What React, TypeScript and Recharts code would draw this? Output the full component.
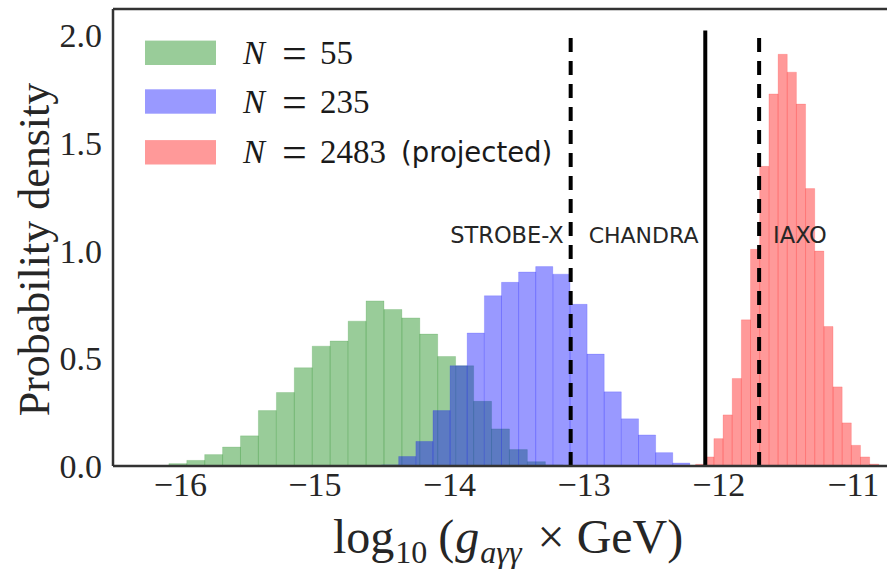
import React from 'react';
import { ComposedChart, XAxis, YAxis, ReferenceArea, ReferenceLine, ReferenceDot, Legend } from 'recharts';

// ---- data ----
const xTicks = [-16, -15, -14, -13, -12, -11];
const yTicks = [0, 0.5, 1.0, 1.5, 2.0];

const greenWidth = 0.1332;
const greenLeft = [-16.085, -15.952, -15.819, -15.686, -15.553, -15.42, -15.286, -15.153, -15.02, -14.887, -14.753, -14.62, -14.487, -14.354, -14.221, -14.088, -13.954, -13.821, -13.688, -13.555, -13.421, -13.288];
const greenHeight = [0.011, 0.026, 0.053, 0.088, 0.14, 0.257, 0.341, 0.456, 0.556, 0.58, 0.672, 0.766, 0.726, 0.687, 0.612, 0.508, 0.465, 0.3, 0.172, 0.076, 0.02, 0.005];

const blueWidth = 0.1273;
const blueLeft = [-14.505, -14.378, -14.25, -14.123, -13.996, -13.869, -13.741, -13.614, -13.487, -13.36, -13.232, -13.105, -12.978, -12.851, -12.723, -12.596, -12.469, -12.342];
const blueHeight = [0.005, 0.044, 0.114, 0.257, 0.465, 0.617, 0.79, 0.852, 0.9, 0.925, 0.89, 0.75, 0.519, 0.344, 0.219, 0.144, 0.062, 0.014];

const redWidth = 0.0681;
const redLeft = [-12.172, -12.104, -12.036, -11.968, -11.9, -11.832, -11.764, -11.696, -11.627, -11.559, -11.491, -11.423, -11.355, -11.287, -11.219, -11.151, -11.083, -11.015, -10.947, -10.879];
const redHeight = [0.008, 0.042, 0.127, 0.237, 0.406, 0.678, 1.005, 1.39, 1.726, 1.91, 1.827, 1.679, 1.287, 0.997, 0.647, 0.367, 0.2, 0.096, 0.042, 0.009];

const limitNames = ['STROBE-X', 'CHANDRA', 'IAXO'];
const limitX = [-13.1, -12.1, -11.7];
const limitDashed = [true, false, true];
const limitTop = 2.02;

const labelTexts = ['STROBE-X', 'CHANDRA', 'IAXO'];
const labelX = [-13.1, -13.1, -11.7];
const labelY = 1.07;

const legendN = ['55', '235', '2483'];
const legendExtra = ['', '', '(projected)'];

const X_MIN = -16.5;
const X_MAX = -10.75;
const Y_MAX = 2.12;

const GREEN = '#008000';
const BLUE = '#0000ff';
const RED = '#ff0000';
const seriesColors = [GREEN, BLUE, RED];

const series = [
  { left: greenLeft, height: greenHeight, width: greenWidth, color: GREEN },
  { left: blueLeft, height: blueHeight, width: blueWidth, color: BLUE },
  { left: redLeft, height: redHeight, width: redWidth, color: RED },
];

const SERIF = '"Liberation Serif", "DejaVu Serif", serif';
const SANS = '"DejaVu Sans", sans-serif';
const SPINE = '#333333';
const TEXT = '#262626';

const fmtX = (v: number) => (v < 0 ? '\u2212' + Math.abs(v) : String(v));
const fmtY = (v: number) => v.toFixed(1);

const labelDx = [-7, 18, 14];
const labelAnchor = ['end', 'start', 'start'];
const labelSize = [22.5, 22, 22.5];

const LegendBox = () => {
  const rows = [52.8, 101.5, 152.3];
  return (
    <svg width={600} height={190} style={{ display: 'block' }}>
      {legendN.map((n, i) => (
        <g key={i}>
          <rect x={145} y={rows[i] - 12.2} width={71} height={24.4} fill={seriesColors[i]} fillOpacity={0.4} />
          <text y={rows[i]} dominantBaseline="central" fontFamily={SERIF} fontSize={33} fill="#1a1a1a">
            <tspan x={243} fontStyle="italic">N</tspan>
            <tspan x={282} fontSize={44}>=</tspan>
            <tspan x={320}>{n}</tspan>
            {legendExtra[i] ? (
              <tspan x={401} fontFamily={SANS} fontSize={27.5}>{legendExtra[i]}</tspan>
            ) : null}
          </text>
        </g>
      ))}
    </svg>
  );
};

export default function App() {
  return (
    <div style={{ position: 'fixed', left: 0, top: 0, width: 887, height: 569, overflow: 'hidden', background: '#fff' }}>
      <ComposedChart width={887} height={569} data={[]} margin={{ top: 9, right: 0, bottom: 0, left: 0 }}>
        <XAxis
          type="number"
          dataKey="x"
          domain={[X_MIN, X_MAX]}
          allowDataOverflow
          ticks={xTicks}
          tickFormatter={fmtX}
          tickLine={false}
          tickSize={0}
          tickMargin={6}
          height={103}
          axisLine={{ stroke: SPINE, strokeWidth: 2.5 }}
          tick={{ fontFamily: SERIF, fontSize: 34, fill: TEXT }}
          label={{
            content: (p: any) => {
              const vb = p.viewBox;
              const cx = vb.x + vb.width / 2;
              const y = vb.y + 87;
              return (
                <text x={cx - 167} y={y} fontFamily={SERIF} fontSize={48} fill={TEXT}>
                  log
                  <tspan fontSize={32} dy={10} dx={1}>10</tspan>
                  <tspan dy={-10} dx={11}>(</tspan>
                  <tspan fontStyle="italic" dx={1}>g</tspan>
                  <tspan fontStyle="italic" fontSize={32} dy={10} dx={1}>a{'\u03B3\u03B3'}</tspan>
                  <tspan dy={-10} dx={16}>{'\u00D7'}</tspan>
                  <tspan dx={12}>GeV</tspan>
                  <tspan>)</tspan>
                </text>
              );
            },
          }}
        />
        <YAxis
          type="number"
          domain={[0, Y_MAX]}
          allowDataOverflow
          ticks={yTicks}
          tickFormatter={fmtY}
          tickLine={false}
          tickSize={0}
          tickMargin={11}
          width={113}
          axisLine={{ stroke: SPINE, strokeWidth: 2.5 }}
          tick={{ fontFamily: SERIF, fontSize: 34, fill: TEXT }}
          label={{
            content: (p: any) => {
              const vb = p.viewBox;
              const cy = vb.y + vb.height / 2 + 12;
              return (
                <text x={49} y={cy} transform={`rotate(-90 49 ${cy})`} textAnchor="middle" fontFamily={SERIF} fontSize={44} fill={TEXT}>
                  Probability density
                </text>
              );
            },
          }}
        />
        {series.map((s, si) =>
          s.left.map((l, i) => (
            <ReferenceArea
              key={`s${si}-${i}`}
              x1={l}
              x2={l + s.width}
              y1={0}
              y2={s.height[i]}
              fill={s.color}
              fillOpacity={0.4}
              stroke={s.color}
              strokeOpacity={0.15}
              strokeWidth={1}
              ifOverflow="hidden"
            />
          ))
        )}
        {limitX.map((x, i) => (
          <ReferenceLine
            key={limitNames[i]}
            segment={[{ x, y: 0 }, { x, y: limitTop }]}
            stroke="#000"
            strokeWidth={4}
            strokeDasharray={limitDashed[i] ? '14 9' : undefined}
          />
        ))}
        <ReferenceLine y={Y_MAX} stroke={SPINE} strokeWidth={2.5} ifOverflow="visible" />
        {labelTexts.map((t, i) => (
          <ReferenceDot
            key={t}
            x={labelX[i]}
            y={labelY}
            r={0}
            shape={(p: any) => (
              <text
                x={p.cx + labelDx[i]}
                y={p.cy}
                textAnchor={labelAnchor[i] as any}
                dominantBaseline="central"
                fontFamily={SANS}
                fontSize={labelSize[i]}
                fill={TEXT}
              >
                {t}
              </text>
            )}
          />
        ))}
        <Legend
          layout="vertical"
          align="center"
          verticalAlign="middle"
          wrapperStyle={{ left: 0, top: 0, width: 600, height: 190 }}
          content={() => <LegendBox />}
        />
      </ComposedChart>
    </div>
  );
}
